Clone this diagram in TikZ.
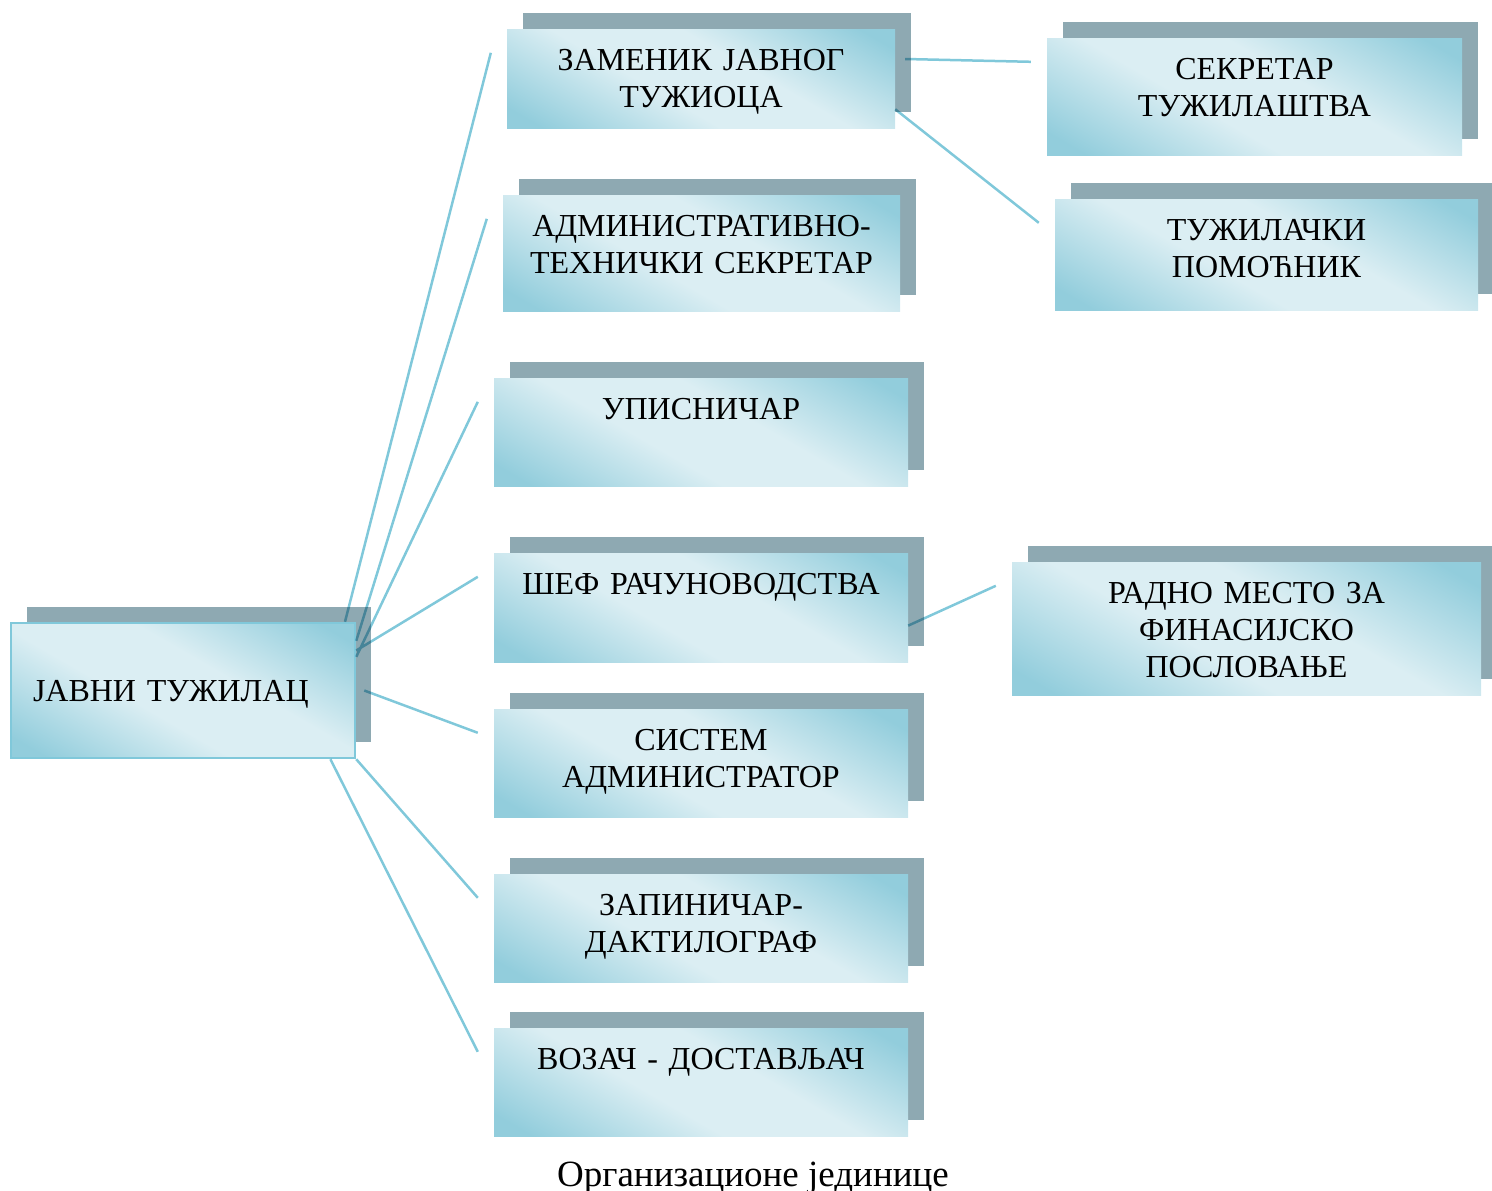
\documentclass[tikz,border=0pt]{standalone}
\usepackage{fontspec}
\setmainfont{Liberation Serif}
\usepackage{tikz}
\usetikzlibrary{shadows, calc}
\definecolor{tamna}{RGB}{146,205,220}
\definecolor{svijetla}{RGB}{219,238,243}
\definecolor{sjena}{RGB}{142,169,178}
\definecolor{linija}{RGB}{128,200,218}
\pgfdeclareverticalshading{sjaj}{100bp}{color(0bp)=(tamna); color(20bp)=(tamna); color(42bp)=(svijetla); color(58bp)=(svijetla); color(80bp)=(tamna); color(100bp)=(tamna)}
\tikzset{
	x=1pt, y=-1pt, % Coordenadas en pixeles, y hacia abajo
	every node/.style={font=\fontsize{32}{37}\selectfont}, % Letra de los textos
	kutija/.style={rectangle, inner sep=0pt, shading=sjaj, shading angle=-30,
		drop shadow={shadow xshift=16pt, shadow yshift=16pt, fill=sjena, opacity=1}}, % Cajas con sombra
	natpis/.style={anchor=north, yshift=-19pt, inner sep=0pt, text width=460pt,
		align=center, text height=22pt}, % Texto arriba de la caja
	veza/.style={draw=linija, line width=2.5pt, blend mode=multiply} % Lineas entre cajas
}

\begin{document}
\begin{tikzpicture}
	\useasboundingbox (0,0) rectangle (1492,1191);
	\node[kutija, minimum width=344, minimum height=135, draw=linija, line width=2.5pt,
		text width=300pt, align=left, text depth=0pt] (jt) at (183,690.5) {ЈАВНИ ТУЖИЛАЦ};
	\node[kutija, minimum width=388, minimum height=99, label={[natpis]north:{ЗАМЕНИК ЈАВНОГ\\ТУЖИОЦА}}] (zam) at (701,78.5) {};
	\node[kutija, minimum width=397, minimum height=116, label={[natpis]north:{АДМИНИСТРАТИВНО-\\ТЕХНИЧКИ СЕКРЕТАР}}] (admin) at (701.5,253) {};
	\node[kutija, minimum width=414, minimum height=108, label={[natpis]north:{УПИСНИЧАР}}] (upis) at (701,432) {};
	\node[kutija, minimum width=414, minimum height=109, label={[natpis]north:{ШЕФ РАЧУНОВОДСТВА}}] (shef) at (701,607.5) {};
	\node[kutija, minimum width=414, minimum height=108, label={[natpis]north:{СИСТЕМ\\АДМИНИСТРАТОР}}] (sis) at (701,763) {};
	\node[kutija, minimum width=414, minimum height=108, label={[natpis]north:{ЗАПИНИЧАР-\\ДАКТИЛОГРАФ}}] (zap) at (701,928) {};
	\node[kutija, minimum width=414, minimum height=108, label={[natpis]north:{ВОЗАЧ - ДОСТАВЉАЧ}}] (voz) at (701,1082) {};
	\node[kutija, minimum width=415, minimum height=117, label={[natpis]north:{СЕКРЕТАР\\ТУЖИЛАШТВА}}] (sekr) at (1254.5,96.5) {};
	\node[kutija, minimum width=423, minimum height=111, label={[natpis]north:{ТУЖИЛАЧКИ\\ПОМОЋНИК}}] (pom) at (1266.5,254.5) {};
	\node[kutija, minimum width=469, minimum height=133, label={[natpis]north:{РАДНО МЕСТО ЗА\\ФИНАСИЈСКО\\ПОСЛОВАЊЕ}}] (fin) at (1246.5,628.5) {};
	\node[font=\fontsize{37}{43}\selectfont, anchor=base] (naslov) at (753,1186) {Организационе јединице};
	% krajevi linija
	\foreach \k in {zam,admin,upis,shef,sis,zap,voz,sekr,pom,fin}
		\coordinate (k\k) at ($(\k.north west)+(-16,24)$);
	\draw[veza] (jt.23) -- (kzam)
		(jt.16.5) -- (kadmin)
		(jt.11.5) -- (kupis)
		(jt.13.5) -- (kshef)
		($(jt.east)+(8,0)$) -- (ksis)
		(jt.south east) -- (kzap)
		(jt.-25) -- (kvoz)
		($(zam.east)+(10,-19.5)$) -- (ksekr)
		(zam.-9) -- (kpom)
		(shef.-5) -- (kfin);
\end{tikzpicture}
\end{document}
